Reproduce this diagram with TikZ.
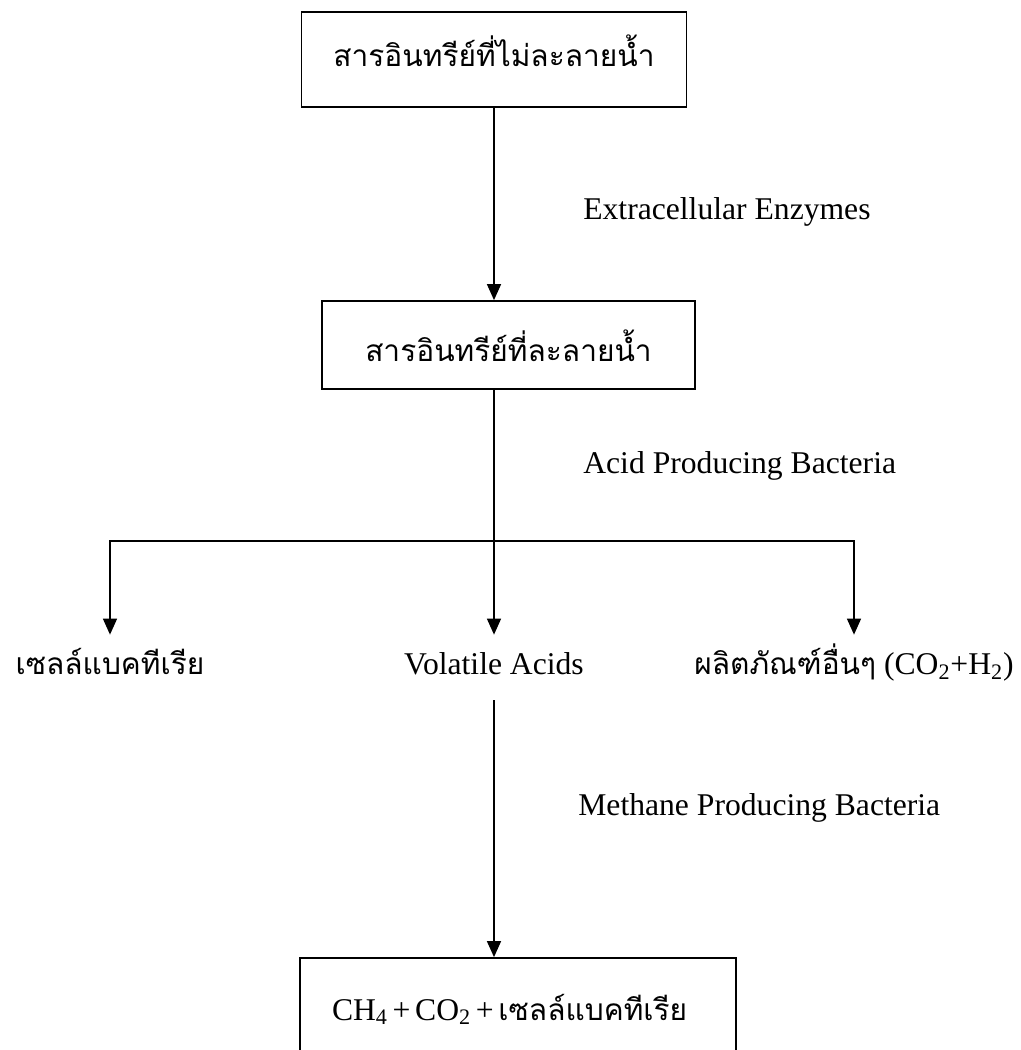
\documentclass[tikz,border=0pt]{standalone}
\usepackage{fontspec}
\setmainfont{Liberation Serif}
\newfontfamily\thaifont[Script=Thai]{Loma}
\usepackage{xcolor}
\usepackage{tikz}
\usetikzlibrary{arrows.meta}

\begin{document}
\begin{tikzpicture}[x=1cm, y=1cm,
  box/.style={draw, line width=1pt, inner sep=0pt, anchor=base},
  thai/.style={font=\thaifont\fontsize{17}{20}\selectfont},
  latin/.style={font=\fontsize{18}{22}\selectfont},
  step label/.style={latin, anchor=base west, inner sep=0pt},
  prod/.style={inner sep=0pt, anchor=base, text height=0.8cm, text depth=0.5cm},
  arr/.style={line width=0.8pt, -{Triangle[length=0.32cm, width=0.28cm]}}]
\clip (0,0) rectangle (20.42,21.0);
% boxes
\node[box, thai, minimum width=7.7cm, text height=1.1cm, text depth=0.8cm]
  (insol) at (9.88,19.66) {สารอินทรีย์ที่ไม่ละลายน้ำ};
\node[box, thai, minimum width=7.46cm, text height=1.22cm, text depth=0.54cm]
  (sol) at (10.17,13.76) {สารอินทรีย์ที่ละลายน้ำ};
\node[box, latin, text width=8.72cm, align=left, text height=1.24cm, text depth=1.2cm]
  (ch4) at (10.36,0.6) {\hspace*{0.64cm}CH\textsubscript{4}\hspace{0.15em}+\hspace{0.15em}CO\textsubscript{2}\hspace{0.15em}+\hspace{0.15em}{\thaifont\fontsize{17}{20}\selectfont เซลล์แบคทีเรีย}};
% products
\node[prod, thai] (cells) at (2.2,7.5) {เซลล์แบคทีเรีย};
\node[prod, latin] (volatile) at (9.88,7.5) {Volatile Acids};
\node[prod, latin] (others) at (17.08,7.5)
  {{\thaifont\fontsize{17}{20}\selectfont ผลิตภัณฑ์อื่นๆ} (CO\textsubscript{2}+H\textsubscript{2})};
% step labels
\node[step label] (enz) at (11.66,16.6) {Extracellular Enzymes};
\node[step label] (apb) at (11.66,11.52) {Acid Producing Bacteria};
\node[step label] (mpb) at (11.56,4.68) {Methane Producing Bacteria};
% connectors
\coordinate (split) at (9.88,10.18);
\draw[arr] (insol.south) -- (insol.south |- sol.north);
\draw[line width=0.8pt] (split |- sol.south) -- (split);
\draw[arr] (split) -| (cells.north);
\draw[arr] (split) -- (volatile.north);
\draw[arr] (split) -| (others.north);
\draw[arr] (volatile.south) -- (volatile.south |- ch4.north);
\end{tikzpicture}
\end{document}
